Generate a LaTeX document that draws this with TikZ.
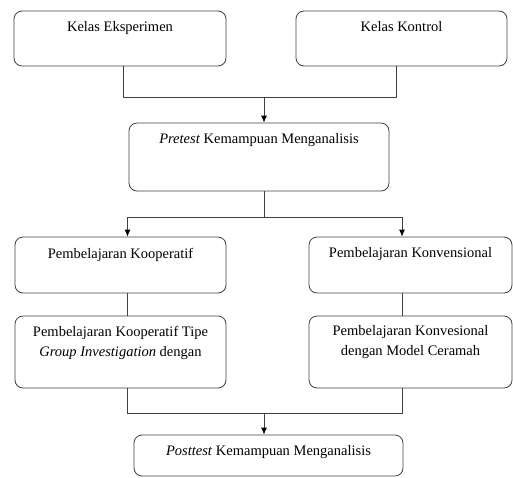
\documentclass[tikz,border=0pt]{standalone}
\usepackage{fontspec}
\setmainfont{Liberation Serif}
\usetikzlibrary{arrows.meta,positioning}
\tikzstyle{box} = [draw, color=black!75, line width=0.8pt, rounded corners=8pt]
\tikzstyle{txt} = [font=\fontsize{14.5}{20}\selectfont, align=center, inner sep=2pt, anchor=north, text=black]
\tikzstyle{line} = [draw, color=black!75, line width=0.8pt]
\tikzstyle{arrow} = [line, -{Latex[length=7pt,width=6pt,color=black]}]

\begin{document}
\begin{tikzpicture}[x=1pt,y=-1pt]
\useasboundingbox (0,0) rectangle (513,477);


%%% %%%
% Kelas
%%% %%%


\node[box,minimum width=212pt,minimum height=55pt] (eks) at (120,38.5) {};
\node[txt,below=9pt of eks.north] (teks) {Kelas Eksperimen};

\node[box,minimum width=211pt,minimum height=55pt] (kon) at (401.5,38.5) {};
\node[txt,below=9pt of kon.north] (tkon) {Kelas Kontrol};


%%% %%%
% Pretest
%%% %%%


\node[box,minimum width=260pt,minimum height=68pt] (pre) at (259,157) {};
\node[txt,below=9pt of pre.north] (tpre) {\textit{Pretest} Kemampuan Menganalisis};


%%% %%%
% Pembelajaran
%%% %%%


\node[box,minimum width=211pt,minimum height=56pt] (koo) at (120.5,265) {};
\node[txt,below=9pt of koo.north] (tkoo) {Pembelajaran Kooperatif};

\node[box,minimum width=203pt,minimum height=56pt] (kvn) at (410.5,265) {};
\node[txt,below=9pt of kvn.north] (tkvn) {Pembelajaran Konvensional};

\node[box,minimum width=211pt,minimum height=72pt] (gi) at (120.5,352) {};
\node[txt,below=8pt of gi.north] (tgi) {Pembelajaran Kooperatif Tipe\\\textit{Group Investigation} dengan};

\node[box,minimum width=203pt,minimum height=72pt] (cer) at (410.5,352) {};
\node[txt,below=8pt of cer.north] (tcer) {Pembelajaran Konvesional\\dengan Model Ceramah};


%%% %%%
% Posttest
%%% %%%


\node[box,minimum width=269pt,minimum height=41pt] (post) at (268.5,455.5) {};
\node[txt,below=9pt of post.north] (tpost) {\textit{Posttest} Kemampuan Menganalisis};


%%%
% Arrows
%%%

\coordinate (jL) at (123,97);
\coordinate (jR) at (396,97);
\coordinate (j1) at (264,97);
\coordinate (j2) at (264,217);
\coordinate (kL) at (127.5,217);
\coordinate (kR) at (402,217);
\coordinate (pL) at (127.5,413);
\coordinate (pR) at (402,413);
\coordinate (p1) at (264,413);

\draw [line] (jL |- eks.south) -- (jL) -- (jR) -- (jR |- kon.south);
\draw [arrow] (j1) -- (j1 |- pre.north);

\draw [line] (j2 |- pre.south) -- (j2);
\draw [line] (kL) -- (kR);
\draw [arrow] (kL) -- (kL |- koo.north);
\draw [arrow] (kR) -- (kR |- kvn.north);

\draw [line] (kL |- koo.south) -- (kL |- gi.north);
\draw [line] (kR |- kvn.south) -- (kR |- cer.north);

\draw [line] (kL |- gi.south) -- (pL) -- (pR) -- (kR |- cer.south);
\draw [arrow] (p1) -- (p1 |- post.north);

\end{tikzpicture}
\end{document}
